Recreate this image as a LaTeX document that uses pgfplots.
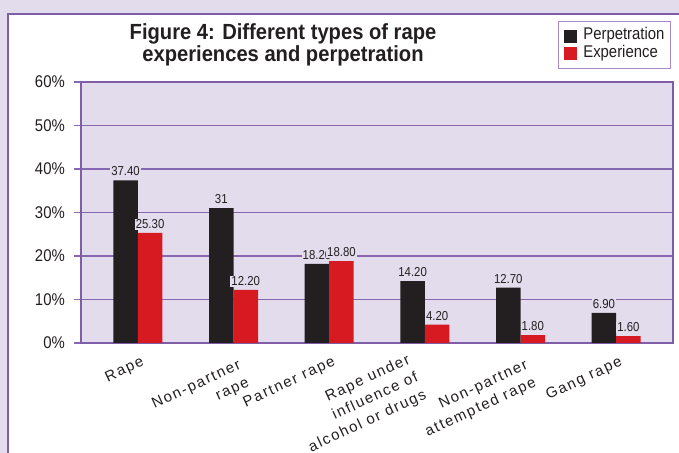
\documentclass[border=0pt]{standalone}
\usepackage{pgfplots}
\pgfplotsset{compat=1.18}
\usepackage{fontspec}
\setmainfont{Liberation Sans}
\newfontfamily\narrowfont{Liberation Sans}[FakeStretch=0.88]
\newfontfamily\titlefont{Liberation Sans}[FakeStretch=0.92]
\newfontfamily\spacedfont{Liberation Sans}[LetterSpace=11]
\definecolor{bgpurple}{HTML}{E3DCEC}
\definecolor{framepurple}{HTML}{7F5DA8}
\definecolor{gridpurple}{HTML}{8767AF}
\definecolor{legpurple}{HTML}{A88BC8}
\definecolor{barblack}{HTML}{231F20}
\definecolor{barred}{HTML}{D71A21}
\definecolor{txt}{HTML}{231F20}
\newcommand{\rlines}[1]{\begin{tabular}{@{}r@{}}#1\end{tabular}}

\begin{document}
\begin{tikzpicture}[x=1bp,y=1bp]
\useasboundingbox (0,0) rectangle (679,453);
\clip (0,0) rectangle (679,453);
\fill[bgpurple] (0,0) rectangle (679,453);
\filldraw[fill=white, draw=framepurple, line width=2bp] (8,-20) rectangle (700,439);

% title
\node[anchor=base, text=txt, font=\titlefont\bfseries\fontsize{22}{22}\selectfont, inner sep=0pt]
  at (283,413.7) {Figure 4: Different types of rape};
\node[anchor=base, text=txt, font=\titlefont\bfseries\fontsize{22}{22}\selectfont, inner sep=0pt]
  at (283,391.3) {experiences and perpetration};

\begin{axis}[
    at={(81bp,110bp)}, anchor=south west,
    scale only axis,
    width=592bp, height=261bp,
    ybar=0pt, bar width=24.5bp,
    xmin=-0.594, xmax=5.594,
    ymin=0, ymax=60,
    axis background/.style={fill=bgpurple},
    axis line style={framepurple, line width=2.5bp},
    ymajorgrids,
    grid style={gridpurple, line width=1.3bp},
    tick align=outside,
    ytick pos=left,
    major tick length=7bp,
    ytick={0,10,...,60},
    yticklabel={\pgfmathprintnumber{\tick}\%},
    /pgf/number format/assume math mode=true,
    ytick style={gridpurple, line width=1.3bp},
    yticklabel style={font=\narrowfont\fontsize{17}{17}\selectfont, text=txt, inner sep=0pt, xshift=-9bp},
    xtick={0,1,2,4,5},
    xtick style={draw=none},
    xticklabels={Rape, \rlines{Non-partner\\rape}, Partner rape, \rlines{Non-partner\\attempted rape}, Gang rape},
    xticklabel style={rotate=25, anchor=north east, text=txt,
        font=\spacedfont\fontsize{15}{19.5}\selectfont, inner sep=0pt, xshift=0bp, yshift=-6bp},
    extra x ticks={3},
    extra x tick labels={\rlines{Rape under\\influence of\\alcohol or drugs}},
    extra x tick style={xtick style={draw=none}, xticklabel style={xshift=-18bp, yshift=14bp}},
    point meta=explicit symbolic,
    nodes near coords,
    nodes near coords style={font=\narrowfont\fontsize{13}{13}\selectfont, fill=bgpurple, text=txt, inner sep=1bp, yshift=3bp},
    legend cell align=left,
    legend image code/.code={\fill[#1] (0bp,-6.5bp) rectangle (13bp,6.5bp);},
    legend style={at={(0.9966,1.2337)}, anchor=north east, draw=legpurple, line width=1bp,
        fill=white, text=txt, font=\narrowfont\fontsize{17}{17}\selectfont,
        inner xsep=6bp, inner ysep=6bp, row sep=0bp,
        nodes={inner sep=0pt, text height=12.5bp, text depth=5bp},
        /tikz/every odd column/.append style={column sep=6bp}},
]
\addplot[fill=barblack, draw=none] coordinates {
    (0,37.4) [37.40] (1,31) [31] (2,18.2) [18.20] (3,14.2) [14.20] (4,12.7) [12.70] (5,6.9) [6.90]};
\addplot[fill=barred, draw=none] coordinates {
    (0,25.3) [25.30] (1,12.2) [12.20] (2,18.8) [18.80] (3,4.2) [4.20] (4,1.8) [1.80] (5,1.6) [1.60]};
\legend{Perpetration, Experience}
\end{axis}
\end{tikzpicture}
\end{document}
